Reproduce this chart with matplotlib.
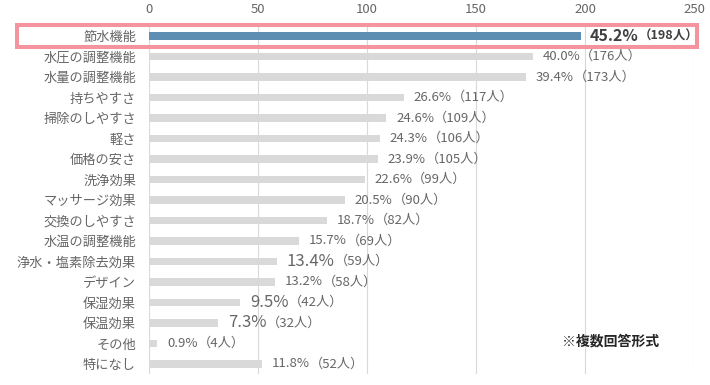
import matplotlib.pyplot as plt
from matplotlib.patches import Rectangle

plt.rcParams['font.family'] = ['Noto Sans CJK JP', 'DejaVu Sans']

categories = ["節水機能", "水圧の調整機能", "水量の調整機能", "持ちやすさ", "掃除のしやすさ",
              "軽さ", "価格の安さ", "洗浄効果", "マッサージ効果", "交換のしやすさ",
              "水温の調整機能", "浄水・塩素除去効果", "デザイン", "保湿効果", "保温効果",
              "その他", "特になし"]
counts = [198, 176, 173, 117, 109, 106, 105, 99, 90, 82, 69, 59, 58, 42, 32, 4, 52]
percents = [45.2, 40.0, 39.4, 26.6, 24.6, 24.3, 23.9, 22.6, 20.5, 18.7, 15.7,
            13.4, 13.2, 9.5, 7.3, 0.9, 11.8]
xticks = [0, 50, 100, 150, 200, 250]

# rows whose percentage is written larger in the original
big_rows = {11, 13, 14}

text_gray = "#666666"

fig = plt.figure(figsize=(7.1, 3.85), dpi=100)
ax = fig.add_axes([0.2092, 0.028, 0.7683, 0.905])

colors = ["#5e8fb3"] + ["#d9d9d9"] * (len(counts) - 1)
ypos = list(range(len(categories)))
ax.barh(ypos, counts, height=0.36, color=colors, zorder=2)

ax.set_xlim(0, 250)
ax.set_ylim(len(categories) - 0.5, -0.5)
ax.set_xticks(xticks)
ax.xaxis.tick_top()
ax.tick_params(axis='x', length=0, labelsize=9.5, labelcolor=text_gray, pad=7)
ax.tick_params(axis='y', length=0, labelsize=9.5, labelcolor=text_gray, pad=9)
ax.set_yticks(ypos)
ax.set_yticklabels(categories)
ax.grid(axis='x', color="#d9d9d9", linewidth=0.8, zorder=0)
for s in ax.spines.values():
    s.set_visible(False)

fig.canvas.draw()
renderer = fig.canvas.get_renderer()
for i, (c, p) in enumerate(zip(counts, percents)):
    if i == 0:
        t1 = ax.annotate(f"{p:.1f}%", (c, i), xytext=(6.5, 0), textcoords="offset points",
                         va="center", ha="left", fontsize=11.5, fontweight="bold", color="#404040")
        size2, weight2 = 9, "bold"
    elif i in big_rows:
        t1 = ax.annotate(f"{p:.1f}%", (c, i), xytext=(7, 0), textcoords="offset points",
                         va="center", ha="left", fontsize=12, color=text_gray)
        size2, weight2 = 9.5, "normal"
    else:
        t1 = ax.annotate(f"{p:.1f}%", (c, i), xytext=(7, 0), textcoords="offset points",
                         va="center", ha="left", fontsize=9.5, color=text_gray)
        size2, weight2 = 9.5, "normal"
    w = t1.get_window_extent(renderer).width * 72 / fig.dpi
    ax.annotate(f"（{c}人）", (c, i), xytext=(7 + w, 0), textcoords="offset points",
                va="center", ha="left", fontsize=size2, fontweight=weight2,
                color="#404040" if i == 0 else text_gray)

fig.add_artist(Rectangle((17 / 710, 1 - 46.5 / 385), 680 / 710, 21.5 / 385,
                         transform=fig.transFigure, fill=False,
                         edgecolor="#f4949e", linewidth=2.9, zorder=5))

fig.text(0.928, 0.113, "※複数回答形式", ha="right", va="center",
         fontsize=10, fontweight="bold", color="#262626")

fig.savefig("out.png", dpi=100)
